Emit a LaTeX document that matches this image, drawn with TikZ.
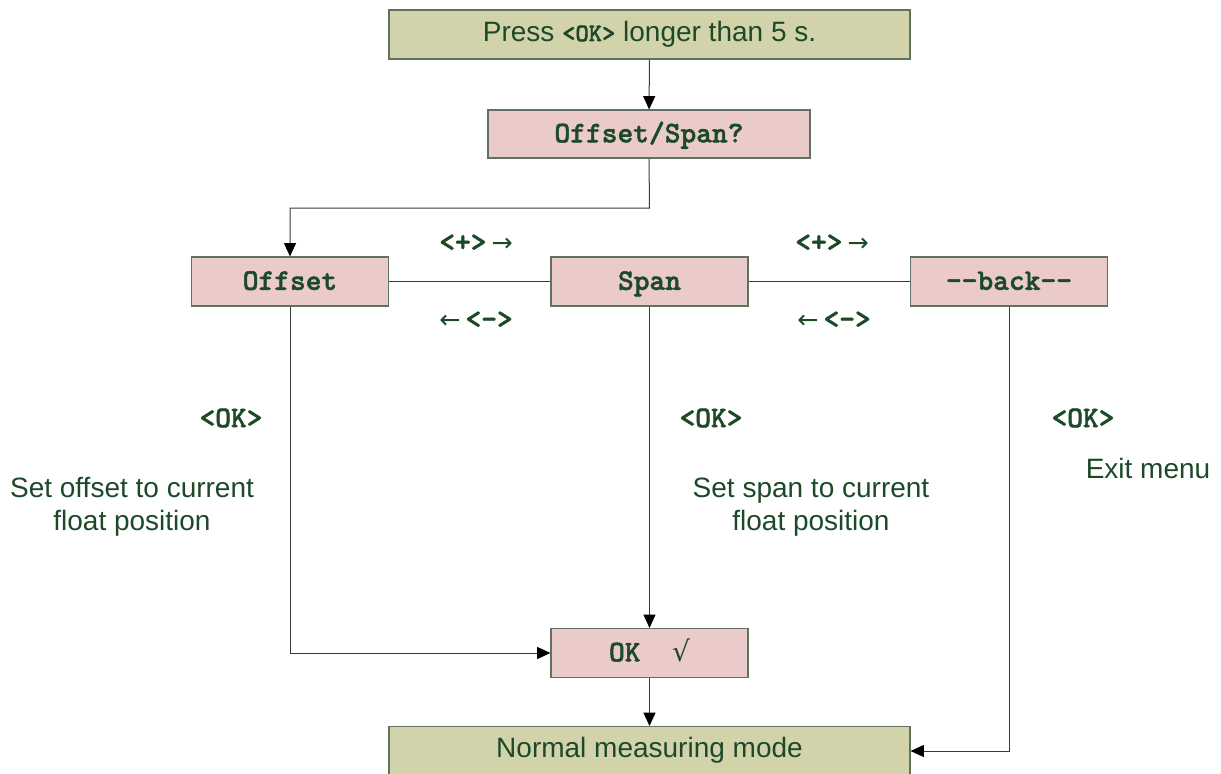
\documentclass[tikz,border=0pt]{standalone}
\usepackage{fontspec}
\setmainfont{Liberation Sans}
\newfontfamily\symf{DejaVu Sans}
\newfontfamily\monob[Extension=.otf, FakeBold=1.6]{lmmonolt10-bold}
\usetikzlibrary{arrows.meta}
\definecolor{txt}{HTML}{1C4A28}
\definecolor{khaki}{HTML}{D3D3AB}
\definecolor{pinkbox}{HTML}{EBCBC9}
\definecolor{bord}{HTML}{5E725F}
\definecolor{linec}{HTML}{3A3A3A}
\newcommand{\ra}{{\symf\mdseries\fontsize{19}{20}\selectfont →}}
\newcommand{\la}{{\symf\mdseries\fontsize{19}{20}\selectfont ←}}
\tikzset{
  base/.style={draw=bord, line width=0.8pt, inner sep=0pt, text=txt, anchor=center},
  wide/.style={base, fill=khaki, minimum width=390.75pt, minimum height=36.75pt, font=\fontsize{21}{24}\selectfont, text height=1.0em, text depth=0em},
  mid/.style={base, fill=pinkbox, minimum width=241.5pt, minimum height=36pt, font=\fontsize{22.5}{24}\selectfont\monob, text height=1.25em, text depth=0em},
  small/.style={base, fill=pinkbox, minimum width=147.75pt, minimum height=36.75pt, font=\fontsize{22.5}{24}\selectfont\monob, text height=1.25em, text depth=0em},
  lab/.style={text=txt, inner sep=0pt, font=\fontsize{22.5}{24}\selectfont\monob},
  note/.style={text=txt, inner sep=0pt, align=center, font=\fontsize{21}{25}\selectfont},
  conn/.style={draw=linec, line width=0.75pt},
  arr/.style={conn, -{Triangle[length=10pt,width=9pt,color=black]}}
}
\begin{document}
\begin{tikzpicture}[x=0.75pt,y=-0.75pt]
\useasboundingbox (0,0) rectangle (1221,774);
\node[wide] (top) at (649.5,34.5) {Press {\monob\fontsize{19}{20}\selectfont<OK>} longer than 5 s.};
\node[mid] (os) at (649,134) {Offset/Span?};
\node[small] (off) at (290,281.5) {Offset};
\node[small] (span) at (649.5,281.5) {Span};
\node[small] (back) at (1009,281.5) {-{}-back-{}-};
\node[small] (ok) at (649.5,653) {OK\ \ {\symf\fontsize{21}{22}\selectfont√}};
\node[wide] (norm) at (649.5,751) {Normal measuring mode};
\coordinate (c1) at (649.5,208);
\draw[arr] (top) -- (os);
\draw[arr] (os.south) -- (c1) -| (off.north);
\draw[conn] (off) -- (span);
\draw[conn] (span) -- (back);
\draw[arr] (span) -- (ok);
\draw[arr] (off.south) |- (ok.west);
\draw[arr] (ok) -- (norm);
\draw[arr] (back.south) |- (norm.east);
\node[lab] (p1) at (476,243) {<+>\,\ra};
\node[lab] (m1) at (476,320) {\la\,<->};
\node[lab] (p2) at (832,243) {<+>\,\ra};
\node[lab] (m2) at (834,320) {\la\,<->};
\node[lab] (k1) at (231,418) {<OK>};
\node[lab] (k2) at (711,418) {<OK>};
\node[lab] (k3) at (1083,418) {<OK>};
\node[note] (n1) at (132,507) {Set offset to current\\float position};
\node[note] (n2) at (811,507) {Set span to current\\float position};
\node[note] (n3) at (1148,468) {Exit menu};
\end{tikzpicture}
\end{document}
